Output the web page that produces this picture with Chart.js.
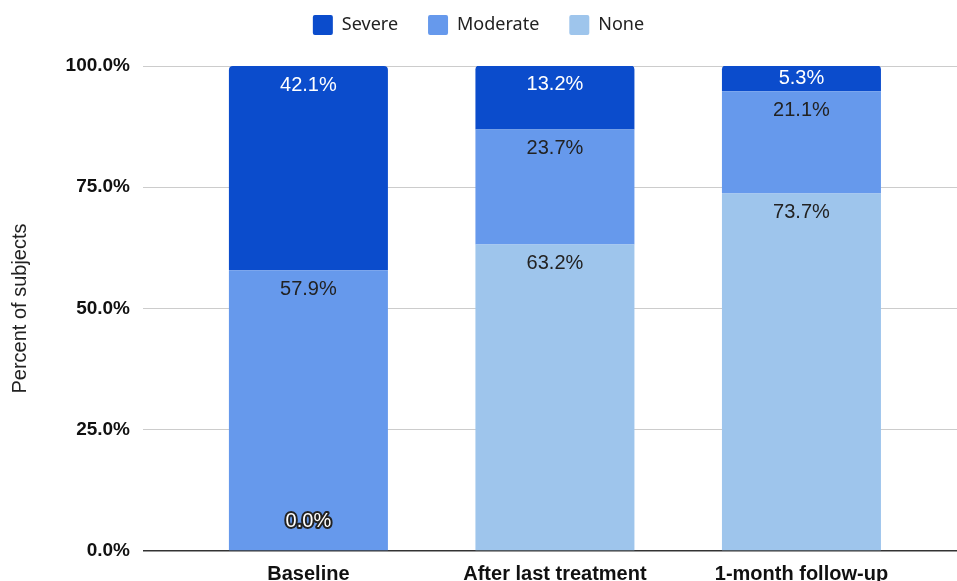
<!DOCTYPE html>
<html>
<head>
<meta charset="utf-8">
<script src="https://cdn.jsdelivr.net/npm/chart.js@4/dist/chart.umd.min.js"></script>
<style>
  html, body { margin:0; padding:0; background:#fff; }
  #wrap { width:957px; height:581px; position:relative; }
</style>
</head>
<body>
<div id="wrap"><canvas id="chart"></canvas></div>
<script>
// stacked percentages per timepoint
const categories = ['Baseline', 'After last treatment', '1-month follow-up'];
const noneVals = [0.0, 63.2, 73.7];
const moderateVals = [57.9, 23.7, 21.1];
const severeVals = [42.1, 13.2, 5.3];
const yTicks = [0, 25, 50, 75, 100];

const colors = { severe:'#0b4ccc', moderate:'#6699ec', none:'#9ec5ec' };
const txtFont = '"Liberation Sans", Arial, sans-serif';

// bars sit on a linear x scale so gridlines can run past the outer bars
const pts = arr => arr.map((v, i) => ({ x: i, y: v }));

// value labels near the top of each segment (google-sheets style)
const segLabels = {
  id: 'segLabels',
  afterDatasetsDraw(chart){
    const ctx = chart.ctx;
    ctx.save();
    ctx.font = '20px ' + txtFont;
    ctx.textAlign = 'center';
    ctx.textBaseline = 'middle';
    chart.data.datasets.forEach((ds, di) => {
      chart.getDatasetMeta(di).data.forEach((el, i) => {
        const v = ds.data[i].y;
        const txt = v.toFixed(1) + '%';
        const top = Math.min(el.y, el.base), bot = Math.max(el.y, el.base);
        if (bot - top < 1) {
          // empty segment: outlined label just above the base
          const y = el.base - 30;
          ctx.lineJoin = 'round';
          ctx.lineWidth = 4; ctx.strokeStyle = '#222';
          ctx.strokeText(txt, el.x, y);
          ctx.fillStyle = '#fff';
          ctx.fillText(txt, el.x, y);
          return;
        }
        const y = Math.min(top + 19, (top + bot) / 2);
        ctx.fillStyle = ds.labelColor;
        ctx.fillText(txt, el.x, y);
      });
    });
    ctx.restore();
  }
};

// extra room under the legend
const legendGap = {
  id: 'legendGap',
  beforeInit(chart){
    const lg = chart.legend;
    const fit = lg.fit;
    lg.fit = function(){ fit.call(this); this.height += 21; };
  }
};

new Chart(document.getElementById('chart'), {
  type: 'bar',
  data: {
    datasets: [
      { label:'None', data: pts(noneVals), backgroundColor: colors.none, labelColor:'#222' },
      { label:'Moderate', data: pts(moderateVals), backgroundColor: colors.moderate, labelColor:'#222' },
      { label:'Severe', data: pts(severeVals), backgroundColor: colors.severe, labelColor:'#fff',
        borderRadius: { topLeft:4, topRight:4, bottomLeft:0, bottomRight:0 }, borderSkipped: 'start' }
    ]
  },
  options: {
    responsive: true,
    maintainAspectRatio: false,
    animation: false,
    categoryPercentage: 1,
    barPercentage: 0.645,
    layout: { padding: { top: -15, right: 0, left: 0, bottom: 0 } },
    plugins: {
      legend: {
        position: 'top',
        reverse: true,
        labels: {
          boxWidth: 20, boxHeight: 20, padding: 30,
          color: '#222',
          font: { size: 18, family: '"Noto Sans", "Open Sans", sans-serif' },
          useBorderRadius: true, borderRadius: 2
        },
        onClick: null
      },
      tooltip: { enabled: false }
    },
    scales: {
      x: {
        type: 'linear',
        stacked: true,
        offset: false,
        min: -0.671, max: 2.631,
        grid: { display: false },
        border: { display: false },
        afterBuildTicks(axis){ axis.ticks = categories.map((c, i) => ({ value: i })); },
        afterFit(axis){ axis.height = 30; },
        ticks: {
          padding: 3,
          autoSkip: false,
          maxRotation: 0,
          color: '#111',
          font: { size: 20, weight: 'bold', family: txtFont },
          callback: v => categories[v]
        }
      },
      y: {
        stacked: true,
        min: 0, max: 100,
        afterBuildTicks(axis){ axis.ticks = yTicks.map(v => ({ value: v })); },
        afterFit(axis){ axis.width = 143; },
        border: { display: false },
        grid: {
          drawTicks: false,
          color: c => c.tick.value === 0 ? '#333' : '#cccccc',
          lineWidth: c => c.tick.value === 0 ? 1.6 : 1
        },
        ticks: {
          padding: 13,
          color: '#111',
          font: { size: 19, weight: 'bold', family: txtFont },
          callback: v => v.toFixed(1) + '%'
        },
        title: {
          display: true,
          text: 'Percent of subjects',
          color: '#222',
          font: { size: 20, family: txtFont },
          padding: { top: 8, bottom: 0 }
        }
      }
    }
  },
  plugins: [segLabels, legendGap]
});
</script>
</body>
</html>
